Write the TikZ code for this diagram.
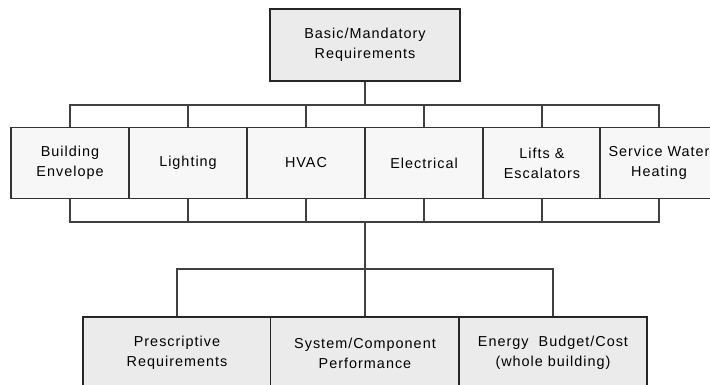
\documentclass[tikz,border=0pt]{standalone}
\usepackage{fontspec}
\setmainfont{Liberation Sans}[LetterSpace=7]

\begin{document}
\begin{tikzpicture}[x=1pt,y=-1pt,line width=1.3pt,
  every node/.style={font=\fontsize{14.4}{20}\selectfont,align=center,inner sep=0pt},
  mainbox/.style={draw=black!85,line width=1.8pt,fill=black!8},
  areabox/.style={draw=black!80,line width=1.3pt,fill=black!3,minimum width=118pt,minimum height=71pt},
  pathbox/.style={draw=black!85,line width=1.8pt,fill=black!8,minimum width=188pt,minimum height=72pt}]
  % Fix the frame
  \useasboundingbox (0,0) rectangle (710,385);
  \clip (0,0) rectangle (710,385);
  % Bus lines
  \coordinate (ubus) at (0,105);
  \coordinate (lbus) at (0,222);
  \coordinate (bbus) at (0,269);
  % Top requirement
  \node[mainbox,minimum width=190pt,minimum height=72pt] (req) at (365,45) {Basic/Mandatory\\Requirements};
  % Building areas
  \node[areabox] (env) at (70,163) {Building\\Envelope};
  \node[areabox] (lit) at (188,163) {Lighting};
  \node[areabox] (hvac) at (306,163) {HVAC};
  \node[areabox] (elec) at (424,163) {Electrical};
  \node[areabox] (lift) at (542,163) {Lifts \&\\Escalators};
  \node[areabox] (swh) at (659,163) {Service Water\\Heating};
  % Compliance paths
  \node[pathbox] (pres) at (177,353) {Prescriptive\\Requirements};
  \node[pathbox,minimum width=189pt] (sys) at (365,353) {System/Component\\Performance};
  \node[pathbox] (cost) at (553,353) {Energy\ \ Budget/Cost\\(whole building)};
  % Connectors
  \draw[black!75] (req.south) -- (req.south |- ubus);
  \draw[black!75] (env.north) -- (env.north |- ubus) -| (swh.north);
  \draw[black!75] (env.south) -- (env.south |- lbus) -| (swh.south);
  \foreach \n in {lit,hvac,elec,lift} {
    \draw[black!75] (\n.north) -- (\n.north |- ubus);
    \draw[black!75] (\n.south) -- (\n.south |- lbus);
  }
  \draw[black!75] (sys.north |- lbus) -- (sys.north);
  \draw[black!75] (pres.north) -- (pres.north |- bbus) -| (cost.north);

\end{tikzpicture}
\end{document}
